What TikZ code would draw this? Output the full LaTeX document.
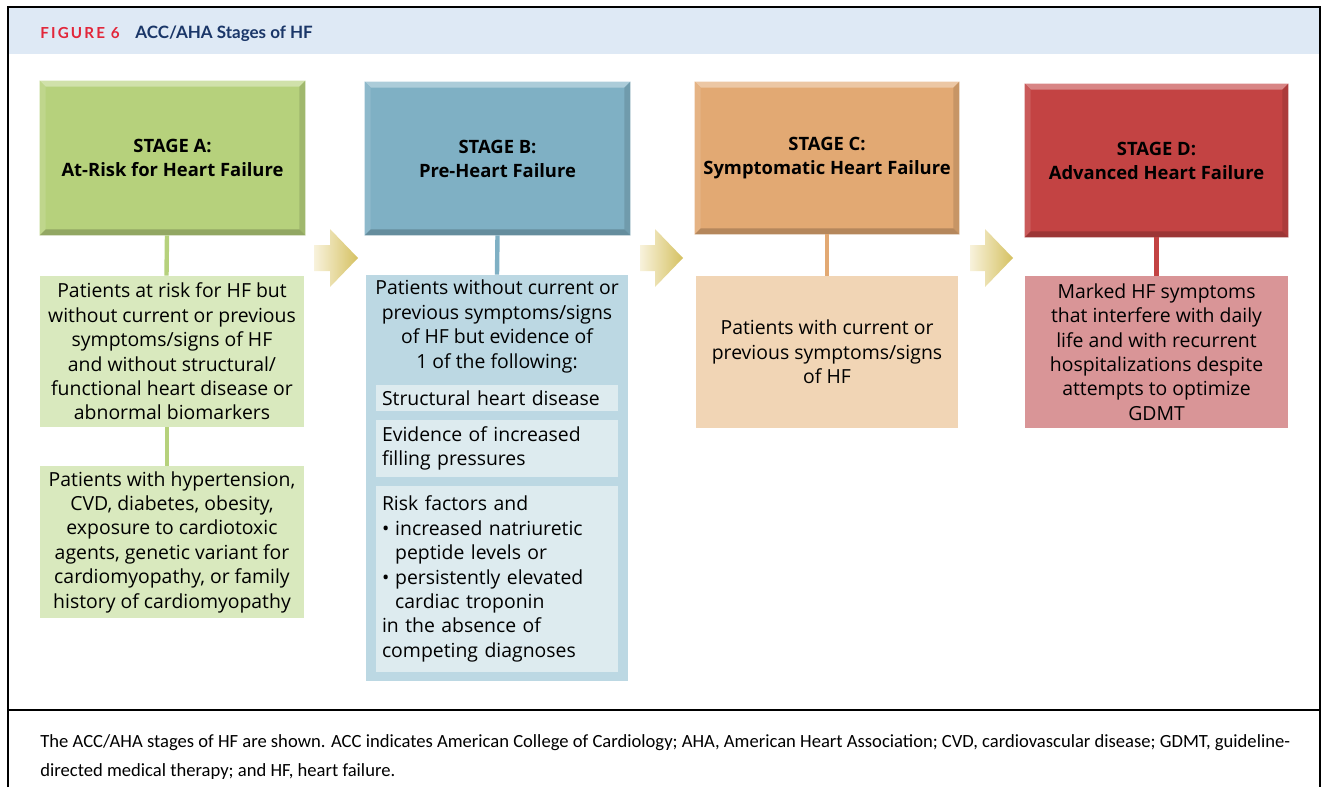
\documentclass[tikz,border=0pt]{standalone}
\usepackage{fontspec}
\setmainfont{Open Sans}
\newfontfamily\titfont{Lato}
\newfontfamily\capfont{Carlito}
\definecolor{band}{HTML}{DEE9F5}
\definecolor{figred}{HTML}{E2263A}
\definecolor{navy}{HTML}{1A3668}
\definecolor{cA}{HTML}{B6D17C}
\definecolor{cAl}{HTML}{D9E9BE}
\definecolor{cB}{HTML}{7FB0C4}
\definecolor{cBl}{HTML}{BCD8E3}
\definecolor{cBi}{HTML}{DDEBEF}
\definecolor{cC}{HTML}{E2A973}
\definecolor{cCl}{HTML}{F1D5B5}
\definecolor{cD}{HTML}{C34343}
\definecolor{cDl}{HTML}{D99597}
\definecolor{arrL}{HTML}{F8F2DC}
\definecolor{arrR}{HTML}{D5C161}
\newcommand\bevelit[2]{%
  \fill[#2!65!white] (#1.north west) -- (#1.north east) -- ([shift={(-6,6)}]#1.north east) -- ([shift={(6,6)}]#1.north west) -- cycle;
  \fill[#2!88!white] (#1.north west) -- ([shift={(6,6)}]#1.north west) -- ([shift={(6,-6)}]#1.south west) -- (#1.south west) -- cycle;
  \fill[#2!88!black] (#1.north east) -- (#1.south east) -- ([shift={(-6,-6)}]#1.south east) -- ([shift={(-6,6)}]#1.north east) -- cycle;
  \fill[#2!80!black] (#1.south west) -- (#1.south east) -- ([shift={(-6,-6)}]#1.south east) -- ([shift={(6,-6)}]#1.south west) -- cycle;
}
\newcommand\bul{\makebox[6.6pt][l]{•}}
\begin{document}
\begin{tikzpicture}[x=0.5pt,y=-0.5pt,
  hdr/.style={fill=#1, inner sep=0pt, align=center, font=\bfseries\fontsize{9.2}{12}\selectfont, text=black},
  sub/.style={fill=#1, inner sep=0pt, align=center, font=\fontsize{9.7}{12.2}\selectfont, text=black},
  inbox/.style={fill=#1, inner xsep=3pt, inner ysep=0pt, align=left, text width=115pt, minimum width=121pt, font=\fontsize{9.7}{12.2}\selectfont, text=black},
  conn/.style={draw=#1, line width=2.2pt},
  arrowshape/.style={left color=arrL, right color=arrR}]
\useasboundingbox (0,0) rectangle (1326,787);
% frame and header band
\fill[band] (9,8) rectangle (1319,54);
\draw[line width=1pt] (8,787) -- (8,7) -- (1320,7) -- (1320,787);
\draw[line width=0.8pt] (8,710) -- (1320,710);
\node[anchor=base west, inner sep=0pt, font=\titfont\bfseries\fontsize{7.6}{9}\selectfont, text=figred] (fig) at (40,38) {\addfontfeatures{LetterSpace=14}FIGURE 6};
\node[anchor=base west, inner sep=0pt, font=\titfont\bfseries\fontsize{8.5}{10}\selectfont, text=navy] (ttl) at (135,38) {ACC/AHA Stages of HF};
% stage headers
\node[hdr=cA, minimum width=132.5pt, minimum height=77pt] (hA) at (172.5,158) {STAGE A:\\At-Risk for Heart Failure};
\node[hdr=cB, minimum width=132.5pt, minimum height=76.5pt] (hB) at (497.5,158.5) {STAGE B:\\Pre-Heart Failure};
\node[hdr=cC, minimum width=132pt, minimum height=76pt] (hC) at (827,158) {STAGE C:\\Symptomatic Heart Failure};
\node[hdr=cD, minimum width=131.5pt, minimum height=76.5pt] (hD) at (1156.5,160.5) {STAGE D:\\Advanced Heart Failure};
\bevelit{hA}{cA}
\bevelit{hB}{cB}
\bevelit{hC}{cC}
\bevelit{hD}{cD}
% sub boxes
\node[sub=cAl, minimum width=132pt, minimum height=75.5pt] (sA1) at (172,351.5) {Patients at risk for HF but\\without current or previous\\symptoms/signs of HF\\and without structural/\\functional heart disease or\\abnormal biomarkers};
\node[sub=cAl, minimum width=132pt, minimum height=76pt] (sA2) at (172,542) {Patients with hypertension,\\CVD, diabetes, obesity,\\exposure to cardiotoxic\\agents, genetic variant for\\cardiomyopathy, or family\\history of cardiomyopathy};
\node[sub=cBl, minimum width=131pt, minimum height=203pt] (sB) at (497,478) {};
\node[sub=cBl, fill=none] (tB) at (497,326.5) {Patients without current or\\previous symptoms/signs\\of HF but evidence of\\1 of the following:};
\node[inbox=cBi, minimum height=13pt] (b1) at (497,398) {Structural heart disease};
\node[inbox=cBi, minimum height=28.5pt] (b2) at (497,448.5) {Evidence of increased\\filling pressures};
\node[inbox=cBi, minimum height=93pt] (b3) at (497,579) {Risk factors and\\\bul increased natriuretic\\\hspace*{6.6pt}peptide levels or\\\bul persistently elevated\\\hspace*{6.6pt}cardiac troponin\\in the absence of\\competing diagnoses};
\node[sub=cCl, minimum width=131pt, minimum height=76pt] (sC) at (827,352) {Patients with current or\\previous symptoms/signs\\of HF};
\node[sub=cDl, minimum width=131.5pt, minimum height=76pt] (sD) at (1156.5,352) {Marked HF symptoms\\that interfere with daily\\life and with recurrent\\hospitalizations despite\\attempts to optimize\\GDMT};
% connectors
\draw[conn=cA] ([xshift=-2.75pt]hA.south) -- ([xshift=-2.75pt]sA1.north);
\draw[conn=cA] ([xshift=-2.5pt]sA1.south) -- ([xshift=-2.5pt]sA2.north);
\draw[conn=cB] (hB.south) -- (sB.north);
\draw[conn=cC] (hC.south) -- (sC.north);
\draw[conn=cD] (hD.south) -- (sD.north);
% arrows
\shade[arrowshape] (314,245) -- (330,245) -- (330,229) -- (358,258) -- (330,287) -- (330,271) -- (314,271) -- cycle;
\shade[arrowshape] (640,245) -- (655,245) -- (655,229) -- (683,258) -- (655,287) -- (655,271) -- (640,271) -- cycle;
\shade[arrowshape] (970,245) -- (985,245) -- (985,229) -- (1013,258) -- (985,287) -- (985,271) -- (970,271) -- cycle;
% caption
\node[anchor=base west, inner sep=0pt, font=\capfont\fontsize{9.3}{14.5}\selectfont] (cap1) at (40,747) {The ACC/AHA stages of HF are shown. ACC indicates American College of Cardiology; AHA, American Heart Association; CVD, cardiovascular disease; GDMT, guideline-};
\node[anchor=base west, inner sep=0pt, font=\capfont\fontsize{9.3}{14.5}\selectfont] (cap2) at (40,776) {directed medical therapy; and HF, heart failure.};
\end{tikzpicture}
\end{document}
